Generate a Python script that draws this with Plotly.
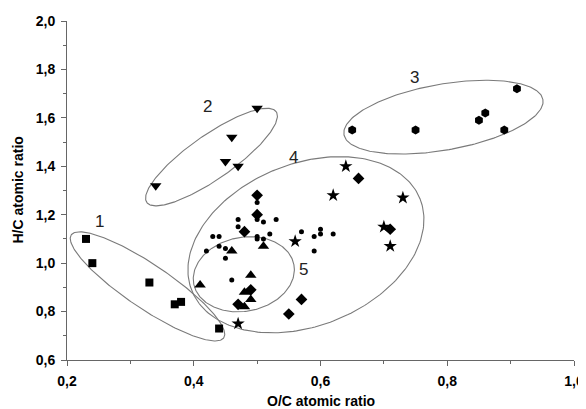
import numpy as np
import plotly.graph_objects as go

# ---------------- data ----------------
sq_x = [0.23, 0.24, 0.33, 0.37, 0.38, 0.44]
sq_y = [1.10, 1.00, 0.92, 0.83, 0.84, 0.73]

tdown_x = [0.34, 0.45, 0.47, 0.46, 0.50]
tdown_y = [1.32, 1.42, 1.40, 1.52, 1.64]

hex_x = [0.65, 0.75, 0.85, 0.86, 0.89, 0.91]
hex_y = [1.55, 1.55, 1.59, 1.62, 1.55, 1.72]

star_x = [0.64, 0.62, 0.73, 0.70, 0.71, 0.56, 0.47]
star_y = [1.40, 1.28, 1.27, 1.15, 1.07, 1.09, 0.75]

dia_x = [0.66, 0.71, 0.57, 0.55, 0.50, 0.50, 0.48, 0.49, 0.47]
dia_y = [1.35, 1.14, 0.85, 0.79, 1.28, 1.20, 1.13, 0.89, 0.83]

tup_x = [0.41, 0.46, 0.51, 0.49, 0.48, 0.49, 0.48]
tup_y = [0.91, 1.05, 1.07, 0.95, 0.88, 0.85, 0.82]

dot_x = [0.50, 0.50, 0.47, 0.47, 0.51, 0.53, 0.43, 0.44, 0.50, 0.50, 0.51, 0.52,
         0.42, 0.44, 0.45, 0.45, 0.46, 0.57, 0.59, 0.60, 0.60, 0.62, 0.59]
dot_y = [1.25, 1.18, 1.18, 1.15, 1.17, 1.18, 1.11, 1.11, 1.11, 1.10, 1.10, 1.12,
         1.05, 1.07, 1.06, 1.02, 0.93, 1.13, 1.11, 1.14, 1.12, 1.12, 1.05]

x_ticks = [0.2, 0.4, 0.6, 0.8, 1.0]
x_tick_labels = ["0,2", "0,4", "0,6", "0,8", "1,0"]
y_ticks = [0.6, 0.8, 1.0, 1.2, 1.4, 1.6, 1.8, 2.0]
y_tick_labels = ["0,6", "0,8", "1,0", "1,2", "1,4", "1,6", "1,8", "2,0"]

x_title = "O/C atomic ratio"
y_title = "H/C atomic ratio"

group_labels = ["1", "2", "3", "4", "5"]
label_x = [0.252, 0.4215, 0.749, 0.558, 0.573]
label_y = [1.171, 1.645, 1.768, 1.437, 0.975]

# ellipse outlines: centre (data), semi-axes (screen px), tilt (deg)
ell_cx = [0.327, 0.428, 0.794, 0.577, 0.479]
ell_cy = [0.904, 1.438, 1.603, 1.076, 0.954]
ell_a = [92, 79, 101, 123, 51]
ell_b = [22, 22, 33, 81, 37]
ell_ang = [-34, 35, 10, 22, 11]

# ---------------- layout geometry ----------------
# (page body has an 8px default margin, so the figure is 8px smaller)
W, H = 578, 401
ML, MR, MT, MB = 59, 12, 13, 49
XR = [0.2, 1.0]
YR = [0.6, 2.0]
kx = (W - ML - MR) / (XR[1] - XR[0])   # px per x unit
ky = (H - MT - MB) / (YR[1] - YR[0])   # px per y unit

FONT = "Liberation Sans, Arial, sans-serif"

fig = go.Figure()

t = np.linspace(0, 2 * np.pi, 241)
for cx, cy, a, b, ang in zip(ell_cx, ell_cy, ell_a, ell_b, ell_ang):
    th = np.deg2rad(ang)
    px = a * np.cos(t) * np.cos(th) - b * np.sin(t) * np.sin(th)
    py = a * np.cos(t) * np.sin(th) + b * np.sin(t) * np.cos(th)
    fig.add_trace(go.Scatter(x=cx + px / kx, y=cy + py / ky, mode="lines",
                             line=dict(color="#7a7a7a", width=1.1),
                             hoverinfo="skip", showlegend=False))

def pts(x, y, symbol, size):
    fig.add_trace(go.Scatter(x=x, y=y, mode="markers", showlegend=False,
                             marker=dict(symbol=symbol, size=size, color="black",
                                         line=dict(width=0))))

pts(sq_x, sq_y, "square", 8)
pts(tdown_x, tdown_y, "triangle-down", 10)
pts(hex_x, hex_y, "hexagon", 9)
pts(star_x, star_y, "star", 10)
pts(dia_x, dia_y, "diamond", 9)
pts(tup_x, tup_y, "triangle-up", 10)
pts(dot_x, dot_y, "circle", 5)

for txt, lx, ly in zip(group_labels, label_x, label_y):
    fig.add_annotation(x=lx, y=ly, text=txt, showarrow=False,
                       font=dict(family=FONT, size=17, color="#222"))

# axis titles
fig.add_annotation(xref="paper", yref="paper", x=0.5, y=0, yshift=-41,
                   xanchor="center", yanchor="middle", showarrow=False,
                   text="<b>" + x_title + "</b>",
                   font=dict(family=FONT, size=14, color="black"))
fig.add_annotation(xref="paper", yref="paper", x=0, y=0.5, xshift=-50,
                   xanchor="center", yanchor="middle", showarrow=False,
                   textangle=-90, text="<b>" + y_title + "</b>",
                   font=dict(family=FONT, size=14, color="black"))

axis_common = dict(
    showgrid=False, zeroline=False, showline=True, linecolor="#666", linewidth=1,
    ticks="outside", ticklen=5, tickwidth=1, tickcolor="#666",
    ticklabelstandoff=3, automargin=False,
    tickfont=dict(family=FONT, size=14, color="black", weight="bold"),
    minor=dict(ticks="outside", ticklen=3, tickwidth=1, tickcolor="#666", dtick=0.1),
    mirror=False,
)

fig.update_xaxes(range=XR, tickvals=x_ticks, ticktext=x_tick_labels, **axis_common)
fig.update_yaxes(range=YR, tickvals=y_ticks, ticktext=y_tick_labels, **axis_common)

fig.update_layout(
    width=W, height=H,
    margin=dict(l=ML, r=MR, t=MT, b=MB),
    plot_bgcolor="white", paper_bgcolor="white",
    showlegend=False,
)

fig.write_html("out.html")
